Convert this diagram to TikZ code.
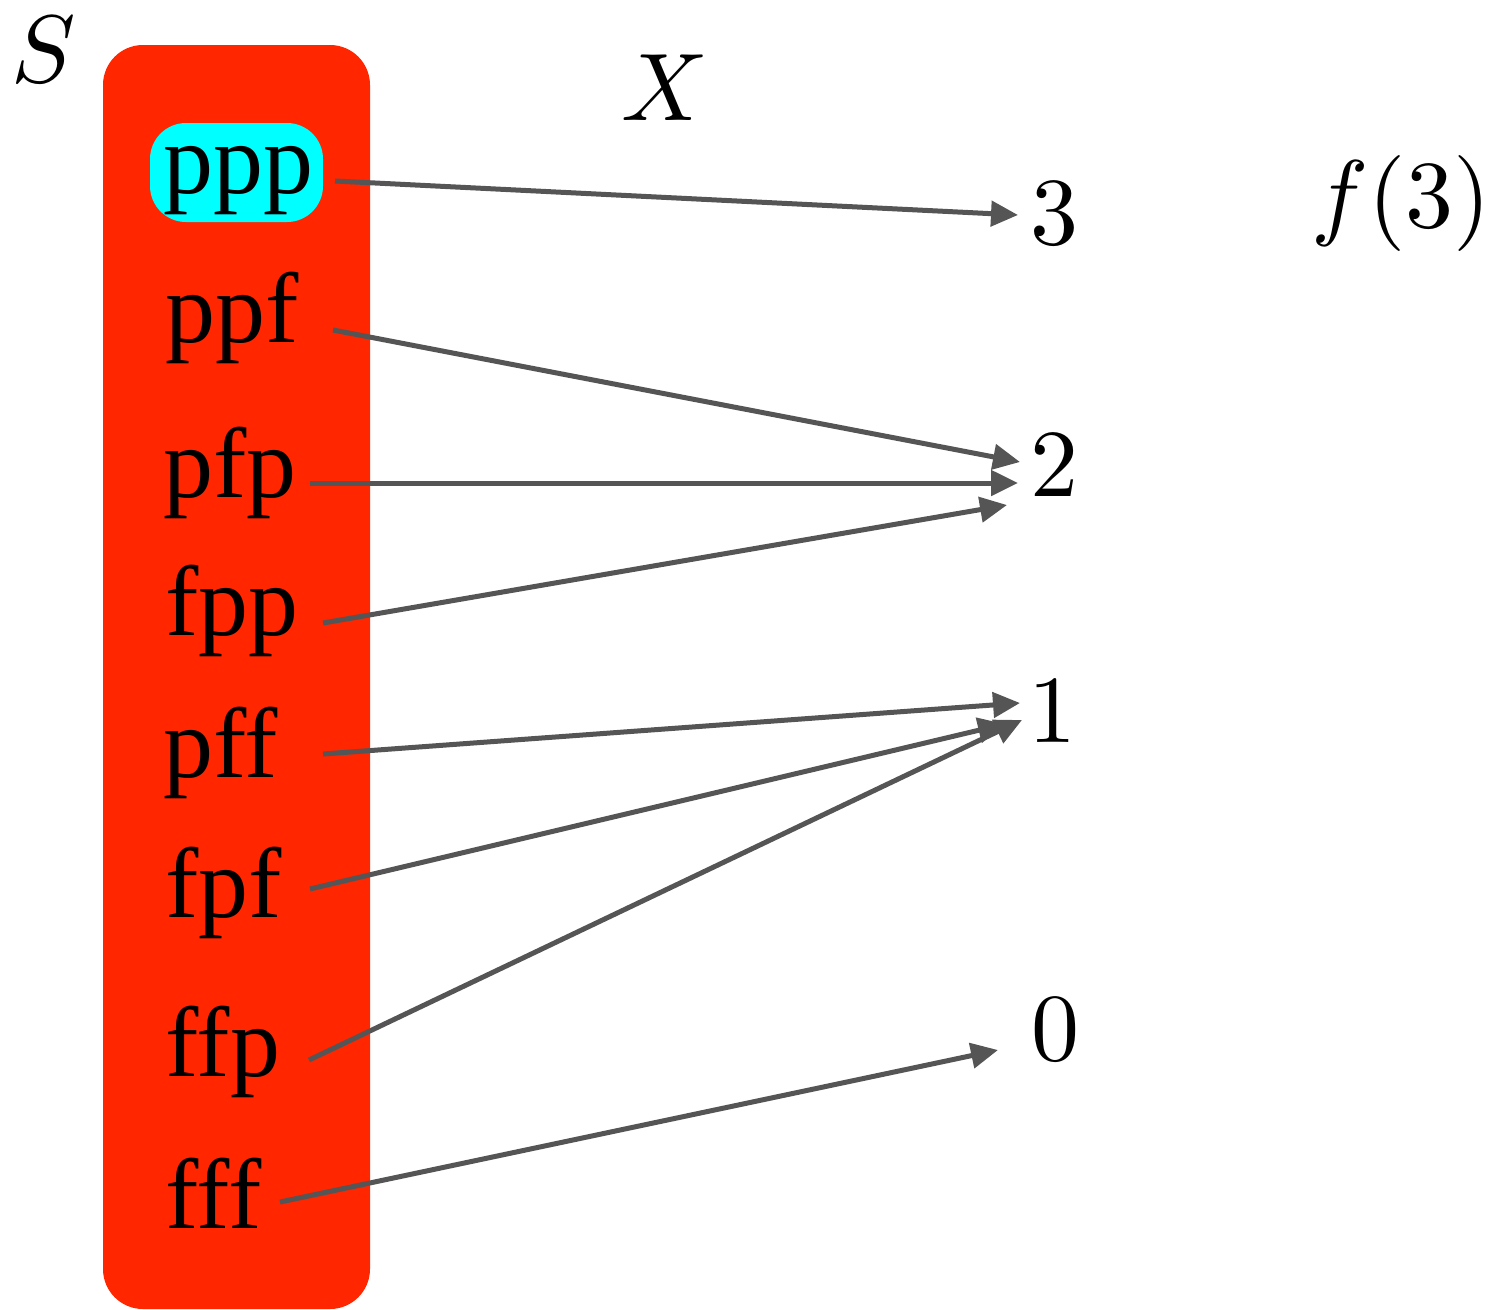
\documentclass[tikz,border=0pt]{standalone}
\usepackage{graphicx}
\usepackage{fontspec}
\setmainfont{Liberation Serif}
\usetikzlibrary{arrows.meta}
\definecolor{boxred}{HTML}{FF2600}
\definecolor{boxcyan}{HTML}{00FFFF}
\definecolor{arrowgray}{HTML}{555555}
\newcommand{\bigmath}[1]{\scalebox{9.6}{$#1$}}
\begin{document}
\begin{tikzpicture}[x=1pt,y=-1pt,
  word/.style={anchor=base west, inner sep=0pt, font=\fontsize{100}{100}\selectfont},
  mathlbl/.style={inner sep=0pt},
  arr/.style={draw=arrowgray, line width=5pt, -{Triangle[length=27pt,width=25pt]}}]
\useasboundingbox (0,0) rectangle (1490,1309);
% set box
\fill[boxred, rounded corners=40pt] (103,45) rectangle (370,1309);
\fill[boxcyan, rounded corners=36pt] (150,123) rectangle (323,222);
% labels
\node[mathlbl] (S) at (44,50) {\bigmath{S}};
\node[mathlbl] (X) at (665,88) {\bigmath{X}};
\node[mathlbl] (f3) at (1401,203) {\bigmath{f(3)}};
% outcomes
\node[word] (ppp) at (163,193) {ppp};
\node[word] (ppf) at (165,342) {ppf};
\node[word] (pfp) at (163,497) {pfp};
\node[word] (fpp) at (165,635) {fpp};
\node[word] (pff) at (163,777) {pff};
\node[word] (fpf) at (165,917) {fpf};
\node[word] (ffp) at (165,1076) {ffp};
\node[word] (fff) at (165,1228) {fff};
% values
\node[mathlbl] (n3) at (1054,214) {\bigmath{3}};
\node[mathlbl] (n2) at (1054,466) {\bigmath{2}};
\node[mathlbl] (n1) at (1052,712) {\bigmath{1}};
\node[mathlbl] (n0) at (1055,1030) {\bigmath{0}};
% connector ends
\coordinate (ppp-o) at (335,181);
\coordinate (ppf-o) at (333,330);
\coordinate (pfp-o) at (310,483);
\coordinate (fpp-o) at (323,623);
\coordinate (pff-o) at (323,754);
\coordinate (fpf-o) at (310,889);
\coordinate (ffp-o) at (309,1060);
\coordinate (fff-o) at (280,1202);
\coordinate (n3-a) at (1018,215);
\coordinate (n2-a) at (1020,462);
\coordinate (n2-b) at (1018,483);
\coordinate (n2-c) at (1007,505);
\coordinate (n1-a) at (1020,703);
\coordinate (n1-b) at (1005,724);
\coordinate (n1-c) at (1022,720);
\coordinate (n0-a) at (998,1050);
\draw[arr] (ppp-o) -- (n3-a);
\draw[arr] (ppf-o) -- (n2-a);
\draw[arr] (pfp-o) -- (n2-b);
\draw[arr] (fpp-o) -- (n2-c);
\draw[arr] (pff-o) -- (n1-a);
\draw[arr] (fpf-o) -- (n1-b);
\draw[arr] (ffp-o) -- (n1-c);
\draw[arr] (fff-o) -- (n0-a);
\end{tikzpicture}
\end{document}
